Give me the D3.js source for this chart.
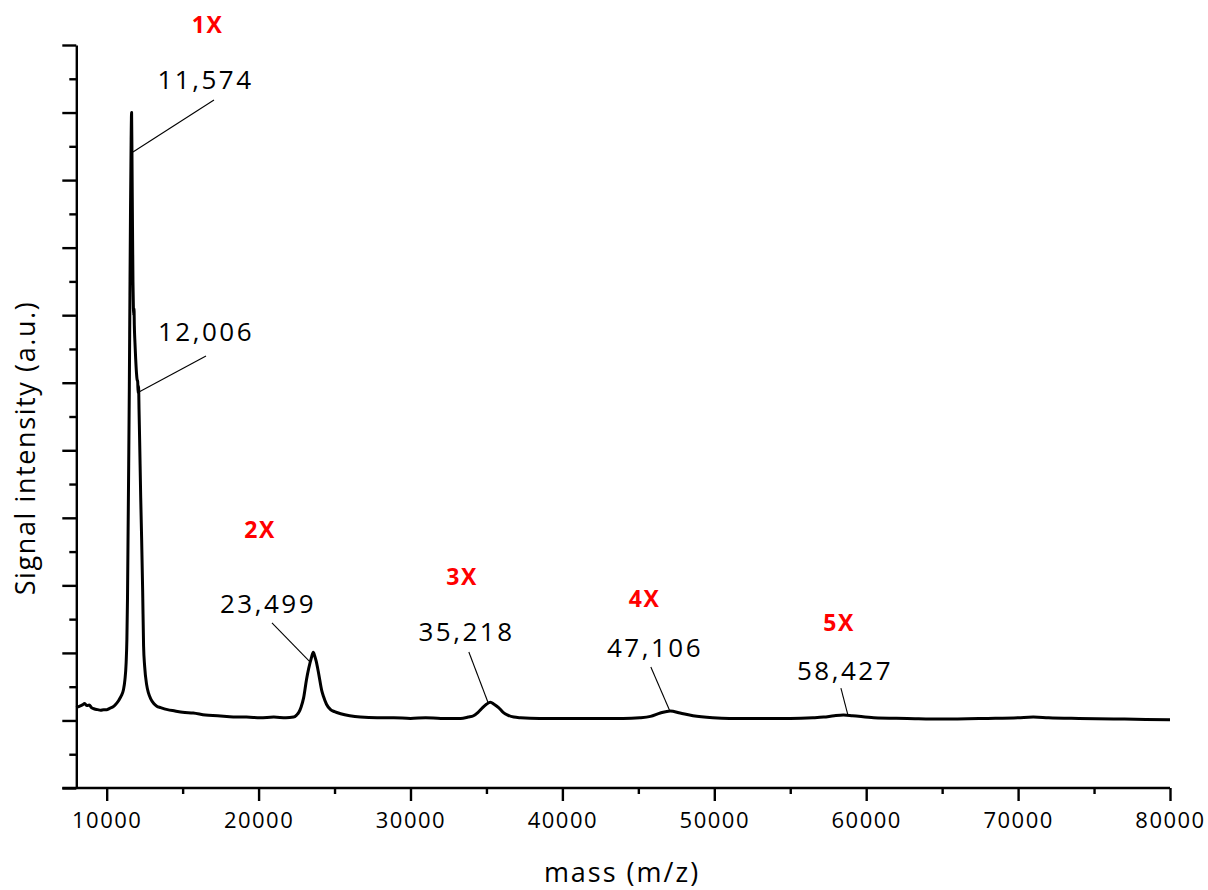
<!DOCTYPE html>
<html>
<head>
<meta charset="utf-8">
<script src="https://cdn.jsdelivr.net/npm/d3@7"></script>
<style>
  html, body { margin: 0; padding: 0; background: #fff; }
  svg { display: block; }
  text { font-family: "Open Sans", "DejaVu Sans", sans-serif; }
</style>
</head>
<body>
<svg id="chart" width="1208" height="890"></svg>
<script>
// ---- data ----
const spectrumMass = [
  8000, 8200, 8400, 8550, 8700, 8850, 9000, 9200, 9400, 9600, 9800, 10000,
  10200, 10400, 10600, 10800, 10950, 11100, 11200, 11280, 11330, 11370, 11410,
  11450, 11490, 11530, 11570, 11610, 11640, 11670, 11700, 11730, 11760, 11780,
  11800, 11820, 11860, 11910, 11960, 12000, 12040, 12070, 12100, 12130, 12170,
  12240, 12300, 12370, 12430, 12500, 12630, 12760, 12900, 13100, 13300, 13550,
  14000, 14500, 15000, 15700, 16500, 17300, 17900, 18500, 19200, 20100, 21000,
  21800, 22300, 22500, 22650, 22800, 22960, 23150, 23300, 23480, 23600, 23700,
  23800, 23950, 24150, 24280, 24470, 24740, 25000, 25400, 26000, 26700, 27800,
  28900, 30000, 31000, 32000, 33300, 33800, 34150, 34450, 34750, 35000, 35260,
  35500, 35800, 36100, 36400, 36800, 37250, 38500, 40000, 42000, 44000, 45100,
  45800, 46450, 47100, 47750, 48600, 49900, 51000, 53000, 55000, 56500, 57200,
  57900, 58500, 59100, 60500, 62700, 65000, 68000, 70000, 71000, 72000, 74000,
  77000, 80000
];
const spectrumIntensity = [
  1.19, 1.21, 1.23, 1.25, 1.22, 1.23, 1.19, 1.17, 1.16, 1.15, 1.16, 1.16,
  1.18, 1.20, 1.24, 1.30, 1.36, 1.45, 1.60, 1.85, 2.20, 2.80, 3.80,
  4.80, 5.90, 7.30, 8.60, 9.60, 10.0, 9.20, 8.30, 7.50, 7.10, 7.00,
  7.10, 6.85, 6.60, 6.35, 6.15, 6.05, 6.02, 5.85, 5.95, 5.60, 5.15,
  4.30, 3.70, 2.90, 2.10, 1.80, 1.53, 1.40, 1.32, 1.25, 1.21, 1.19,
  1.16, 1.14, 1.12, 1.11, 1.08, 1.07, 1.06, 1.05, 1.05, 1.04, 1.05,
  1.04, 1.05, 1.08, 1.12, 1.20, 1.33, 1.60, 1.77, 1.93, 2.01, 1.95,
  1.87, 1.70, 1.45, 1.35, 1.24, 1.16, 1.13, 1.10, 1.07, 1.05, 1.04,
  1.04, 1.03, 1.04, 1.03, 1.03, 1.05, 1.07, 1.12, 1.19, 1.24, 1.27,
  1.24, 1.19, 1.12, 1.08, 1.05, 1.04, 1.03, 1.03, 1.03, 1.03, 1.04,
  1.06, 1.11, 1.14, 1.11, 1.07, 1.04, 1.03, 1.03, 1.03, 1.04, 1.05,
  1.07, 1.08, 1.07, 1.04, 1.03, 1.02, 1.03, 1.04, 1.05, 1.04, 1.03,
  1.02, 1.01
];

const xTickValues = [10000, 20000, 30000, 40000, 50000, 60000, 70000, 80000];
const xMinorTickValues = [15000, 25000, 35000, 45000, 55000, 65000, 75000];
const yTickValues = [0, 1, 2, 3, 4, 5, 6, 7, 8, 9, 10, 11];
const yMinorTickValues = [0.5, 1.5, 2.5, 3.5, 4.5, 5.5, 6.5, 7.5, 8.5, 9.5, 10.5];

// multimer labels: text, anchor mass, anchor intensity
const multimerLabels = ["1X", "2X", "3X", "4X", "5X"];
const multimerMass = [16637, 20093, 33396, 45407, 58211];
const multimerLevel = [11.18, 3.70, 3.005, 2.68, 2.32];

// peak mass labels and leader lines (data units)
const peakLabels = ["11,574", "12,006", "23,499", "35,218", "47,106", "58,427"];
const peakLabelMass = [16506, 16538, 20620, 33688, 46097, 58606];
const peakLabelLevel = [10.35, 6.62, 2.59, 2.176, 1.94, 1.60];
const leaderFromMass = [17063, 16538, 20880, 33842, 45823, 58336];
const leaderFromLevel = [10.185, 6.395, 2.443, 2.013, 1.791, 1.48];
const leaderToMass = [11731, 12127, 23336, 35092, 47074, 58797];
const leaderToLevel = [9.415, 5.862, 1.88, 1.273, 1.14, 1.08];

// ---- drawing ----
const svg = d3.select("#chart");
const x = d3.scaleLinear().domain([8000, 80000]).range([76.3, 1170]);
const y = d3.scaleLinear().domain([0, 11]).range([788, 45]);

const points = spectrumMass.map((m, i) => [m, spectrumIntensity[i]]);

// X axis
const xAxisG = svg.append("g").attr("transform", `translate(0,${y(0)})`);
xAxisG.call(d3.axisBottom(x).tickValues(xTickValues).tickSize(13).tickSizeOuter(0).tickPadding(11)
  .tickFormat(d3.format("d")));
const xMinor = svg.append("g").attr("transform", `translate(0,${y(0)})`);
xMinor.call(d3.axisBottom(x).tickValues(xMinorTickValues).tickSize(6).tickSizeOuter(0).tickFormat(""));
xMinor.select(".domain").remove();
xAxisG.select(".domain").attr("d", `M${x(8000) - 14},0H${x(80000)}`);

// Y axis
const yAxisG = svg.append("g").attr("transform", `translate(${x(8000)},0)`);
yAxisG.call(d3.axisLeft(y).tickValues(yTickValues).tickSize(14).tickSizeOuter(0).tickFormat(""));
const yMinor = svg.append("g").attr("transform", `translate(${x(8000)},0)`);
yMinor.call(d3.axisLeft(y).tickValues(yMinorTickValues).tickSize(7).tickSizeOuter(0).tickFormat(""));
yMinor.select(".domain").remove();

svg.selectAll(".domain").attr("stroke", "#000").attr("stroke-width", 2.4);
svg.selectAll(".tick line").attr("stroke", "#000").attr("stroke-width", 2.4);
xAxisG.selectAll(".tick text")
  .attr("fill", "#000")
  .style("font-family", "'Open Sans', sans-serif")
  .style("font-size", "22px")
  .style("letter-spacing", "1.5px");

// Spectrum
svg.append("path")
  .datum(points)
  .attr("fill", "none")
  .attr("stroke", "#000")
  .attr("stroke-width", 3)
  .attr("stroke-linejoin", "round")
  .attr("d", d3.line().x(d => x(d[0])).y(d => y(d[1])).curve(d3.curveMonotoneX));

// Leader lines
svg.append("g").selectAll("line")
  .data(peakLabels)
  .join("line")
  .attr("x1", (d, i) => x(leaderFromMass[i]))
  .attr("y1", (d, i) => y(leaderFromLevel[i]))
  .attr("x2", (d, i) => x(leaderToMass[i]))
  .attr("y2", (d, i) => y(leaderToLevel[i]))
  .attr("stroke", "#000")
  .attr("stroke-width", 1.1);

// Peak mass labels
svg.append("g").selectAll("text")
  .data(peakLabels)
  .join("text")
  .attr("x", (d, i) => x(peakLabelMass[i]))
  .attr("y", (d, i) => y(peakLabelLevel[i]))
  .attr("text-anchor", "middle")
  .style("font-size", "26px")
  .style("letter-spacing", "2.5px")
  .attr("fill", "#000")
  .text(d => d);

// Multimer labels
svg.append("g").selectAll("text")
  .data(multimerLabels)
  .join("text")
  .attr("x", (d, i) => x(multimerMass[i]))
  .attr("y", (d, i) => y(multimerLevel[i]))
  .attr("text-anchor", "middle")
  .style("font-size", "23px")
  .style("font-weight", "bold")
  .style("letter-spacing", "1.5px")
  .attr("fill", "#ff0000")
  .text(d => d);

// Axis titles
svg.append("text")
  .attr("x", 622)
  .attr("y", 882)
  .attr("text-anchor", "middle")
  .style("font-size", "27px")
  .style("letter-spacing", "2px")
  .attr("fill", "#000")
  .text("mass (m/z)");

svg.append("text")
  .attr("transform", "translate(35,448) rotate(-90)")
  .attr("text-anchor", "middle")
  .style("font-size", "27px")
  .style("letter-spacing", "1.6px")
  .attr("fill", "#000")
  .text("Signal intensity (a.u.)");
</script>
</body>
</html>
